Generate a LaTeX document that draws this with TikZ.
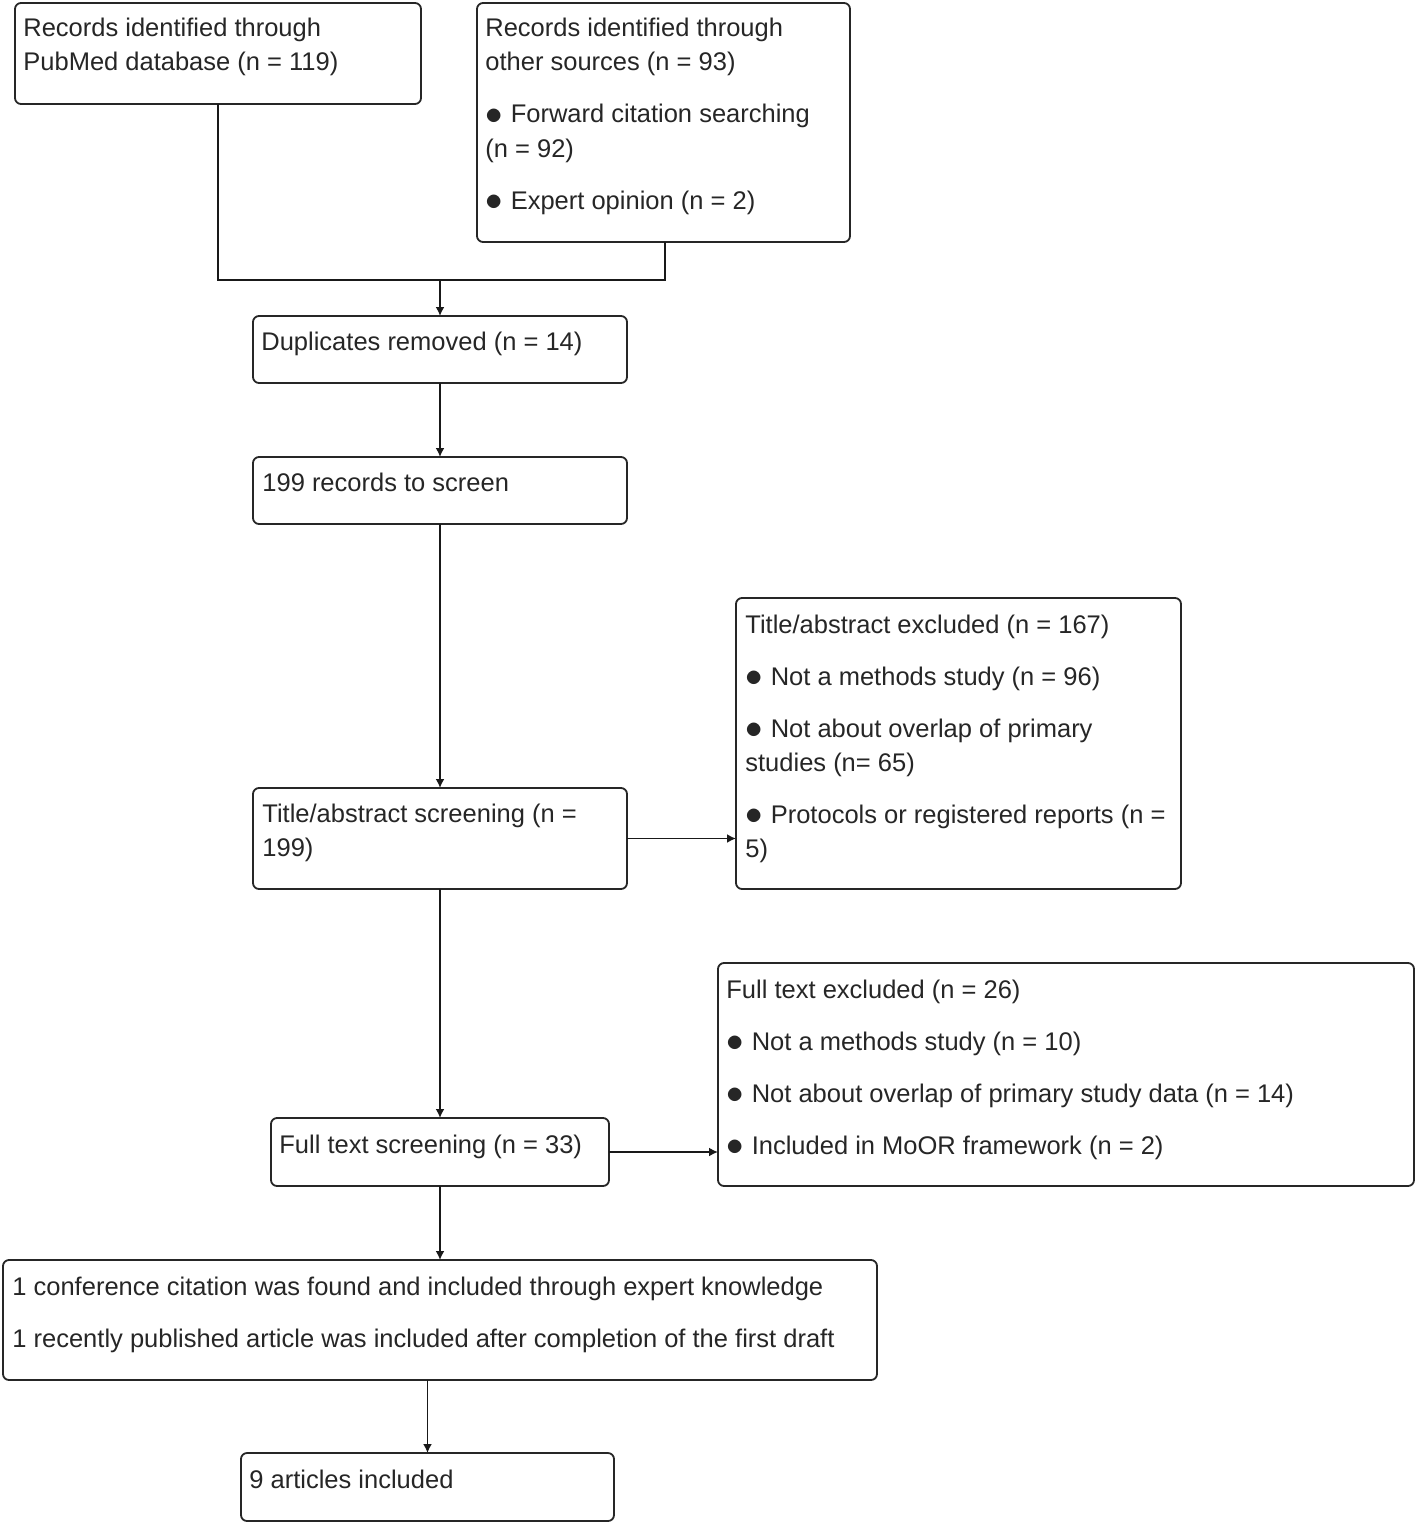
\documentclass[tikz,border=0pt]{standalone}
\usepackage{fontspec}
\setmainfont{Liberation Sans}
\usetikzlibrary{arrows.meta}
\begin{document}
\begin{tikzpicture}[x=0.5pt,y=-0.5pt,
  box/.style={draw=black!85, line width=0.9pt, rounded corners=3pt, inner sep=0pt, outer sep=0pt, anchor=north west},
  txt/.style={anchor=base west, inner sep=0pt, font=\fontsize{12.75pt}{14pt}\selectfont, text=black!85},
  arr/.style={draw=black!90, line width=0.9pt, -{Latex[length=4.5pt,width=4.5pt]}},
  ln/.style={draw=black!90, line width=0.9pt}]
\useasboundingbox[fill=white] (0,0) rectangle (1418,1525);
\newcommand\bul{\raisebox{-0.6pt}{\scalebox{1.45}{$\bullet$}}\hspace{4pt}}
% boxes
\node[box, minimum width=203pt, minimum height=50.5pt] (pub) at (15,3) {};
\node[box, minimum width=186.5pt, minimum height=119.5pt] (oth) at (477,3) {};
\node[box, minimum width=187pt, minimum height=33.5pt] (dup) at (253,316) {};
\node[box, minimum width=187pt, minimum height=33.5pt] (rec) at (253,457) {};
\node[box, minimum width=187pt, minimum height=50.5pt] (tas) at (253,788) {};
\node[box, minimum width=222.5pt, minimum height=145.5pt] (tae) at (736,598) {};
\node[box, minimum width=348pt, minimum height=111.5pt] (fte) at (718,963) {};
\node[box, minimum width=169pt, minimum height=34pt] (fts) at (271,1118) {};
\node[box, minimum width=437pt, minimum height=60pt] (conf) at (3,1260) {};
\node[box, minimum width=186.5pt, minimum height=34pt] (art) at (241,1453) {};
% texts
\node[txt] (t1a) at (23,37) {Records identified through};
\node[txt] (t1b) at (23,71) {PubMed database (n = 119)};
\node[txt] (t2a) at (485,37) {Records identified through};
\node[txt] (t2b) at (485,71) {other sources (n = 93)};
\node[txt] (t2c) at (485,123) {\bul Forward citation searching};
\node[txt] (t2d) at (485,157) {(n = 92)};
\node[txt] (t2e) at (485,209) {\bul Expert opinion (n = 2)};
\node[txt] (t3) at (261,350) {Duplicates removed (n = 14)};
\node[txt] (t4) at (262,491) {199 records to screen};
\node[txt] (t5a) at (262,822) {Title/abstract screening (n =};
\node[txt] (t5b) at (262,856) {199)};
\node[txt] (t6a) at (745,633) {Title/abstract excluded (n = 167)};
\node[txt] (t6b) at (745,685) {\bul Not a methods study (n = 96)};
\node[txt] (t6c) at (745,737) {\bul Not about overlap of primary};
\node[txt] (t6d) at (745,771) {studies (n= 65)};
\node[txt] (t6e) at (745,823) {\bul Protocols or registered reports (n =};
\node[txt] (t6f) at (745,857) {5)};
\node[txt] (t7a) at (726,998) {Full text excluded (n = 26)};
\node[txt] (t7b) at (726,1050) {\bul Not a methods study (n = 10)};
\node[txt] (t7c) at (726,1102) {\bul Not about overlap of primary study data (n = 14)};
\node[txt] (t7d) at (726,1154) {\bul Included in MoOR framework (n = 2)};
\node[txt] (t8) at (279,1153) {Full text screening (n = 33)};
\node[txt] (t9a) at (12,1295) {1 conference citation was found and included through expert knowledge};
\node[txt] (t9b) at (12,1347) {1 recently published article was included after completion of the first draft};
\node[txt] (t10) at (249,1488) {9 articles included};
% connectors
\coordinate (jr) at (665,280);
\draw[ln] (pub.south) |- (jr) -- (oth.south -| jr);
\draw[arr] (dup.north |- jr) -- (dup.north);
\draw[arr] (dup.south) -- (rec.north);
\draw[arr] (rec.south) -- (tas.north);
\draw[arr] (tas.east) -- (tae.west |- tas.east);
\draw[arr] (tas.south) -- (fts.north);
\draw[arr] (fts.east) -- (fte.west |- fts.east);
\draw[arr] (fts.south) -- (conf.north);
\draw[arr] (art.north |- conf.south) -- (art.north);
\end{tikzpicture}
\end{document}
